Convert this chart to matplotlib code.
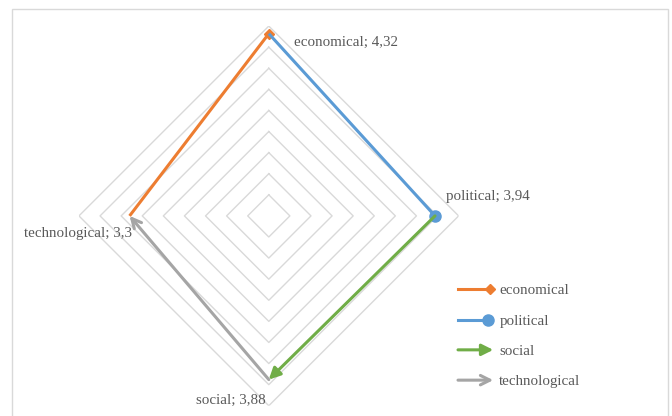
import numpy as np
import matplotlib
matplotlib.use("Agg")
import matplotlib.pyplot as plt
from matplotlib.lines import Line2D
from matplotlib.patches import FancyArrowPatch, Rectangle
from matplotlib.legend_handler import HandlerBase

# data
categories = ["economical", "political", "social", "technological"]
values = [4.32, 3.94, 3.88, 3.3]
grid_levels = [0.5, 1.0, 1.5, 2.0, 2.5, 3.0, 3.5, 4.0, 4.5]

colors = ["#ED7D31", "#5B9BD5", "#70AD47", "#A5A5A5"]
# how each series line ends: ("marker", m) or ("arrow", style)
line_ends = [("marker", "D"), ("marker", "o"), ("arrow", "-|>"), ("arrow", "->")]
marker_sizes = [5, 8, 6, 6]

text_color = "#595959"
grid_color = "#D9D9D9"
font = "Liberation Serif"
plt.rcParams["font.family"] = [font, "DejaVu Serif"]
fs = 10.8


class EndHandler(HandlerBase):
    """Legend key: a short line with the series' end marker or arrow."""

    def __init__(self, color, kind, style, ms=6):
        super().__init__()
        self.color, self.kind, self.style, self.ms = color, kind, style, ms

    def create_artists(self, legend, orig_handle, xdescent, ydescent,
                       width, height, fontsize, trans):
        y = height / 2 - ydescent
        x0, x1 = -xdescent, width - xdescent
        if self.kind == "arrow":
            a = FancyArrowPatch((x0, y), (x1, y), arrowstyle=self.style,
                                color=self.color, lw=2.2, mutation_scale=17,
                                shrinkA=0, shrinkB=0, transform=trans)
            return [a]
        xm = x1 - self.ms * 0.5
        ln = Line2D([x0, xm], [y, y], color=self.color, lw=2.2, transform=trans)
        mk = Line2D([xm], [y], marker=self.style, ms=self.ms, color=self.color,
                    ls="none", transform=trans)
        return [ln, mk]


fig = plt.figure(figsize=(6.72, 4.16), dpi=100)
ax = fig.add_axes([0.1175, 0.0245, 0.565, 0.913], projection="polar")
ax.set_theta_zero_location("N")
ax.set_theta_direction(-1)
ax.set_ylim(0, grid_levels[-1])
ax.grid(False)
ax.spines["polar"].set_visible(False)
ax.set_xticks([])
ax.set_yticks([])
ax.patch.set_alpha(0)

angles = np.deg2rad([0, 90, 180, 270])

# diamond gridlines
for lev in grid_levels:
    ax.plot(list(angles) + [angles[0]], [lev] * 5, color=grid_color, lw=1, zorder=1)

# series: each one runs from the previous axis to its own axis
n = len(categories)
for i in range(n):
    j = (i - 1) % n
    kind, style = line_ends[i]
    if kind == "marker":
        ax.plot([angles[j], angles[i]], [values[j], values[i]], color=colors[i],
                lw=2.2, marker=style, ms=marker_sizes[i], markevery=[1],
                solid_capstyle="butt", zorder=3)
    else:
        ax.annotate("", xy=(angles[i], values[i]), xytext=(angles[j], values[j]),
                    arrowprops=dict(arrowstyle=style, color=colors[i], lw=2.2,
                                    mutation_scale=17, shrinkA=0, shrinkB=0),
                    zorder=3)

# data labels
label_offsets = [(18, -6, "left"), (8, 14, "left"), (-2, -15, "right"), (2, -13, "right")]
for i, name in enumerate(categories):
    dx, dy, ha = label_offsets[i]
    txt = f"{name}; " + f"{values[i]:g}".replace(".", ",")
    ax.annotate(txt, xy=(angles[i], values[i]), xytext=(dx, dy),
                textcoords="offset points", ha=ha, va="center",
                fontsize=fs, color=text_color)

# legend
handles = [Line2D([], [], color=c) for c in colors]
hmap = {}
for i, h in enumerate(handles):
    kind, style = line_ends[i]
    hmap[h] = EndHandler(colors[i], kind, style, marker_sizes[i])
leg = fig.legend(handles, categories, handler_map=hmap, loc="upper left",
                 bbox_to_anchor=(458 / 672, (416 - 284) / 416), frameon=False,
                 borderpad=0, borderaxespad=0, handlelength=2.35,
                 handletextpad=0.4, labelspacing=1.12, fontsize=fs)
for t in leg.get_texts():
    t.set_color(text_color)

# chart border
fig.add_artist(Rectangle((12 / 672, -0.05), 656 / 672, (416 - 9) / 416 + 0.05,
                         transform=fig.transFigure, fill=False,
                         ec=grid_color, lw=1))

fig.savefig("out.png", dpi=100)
